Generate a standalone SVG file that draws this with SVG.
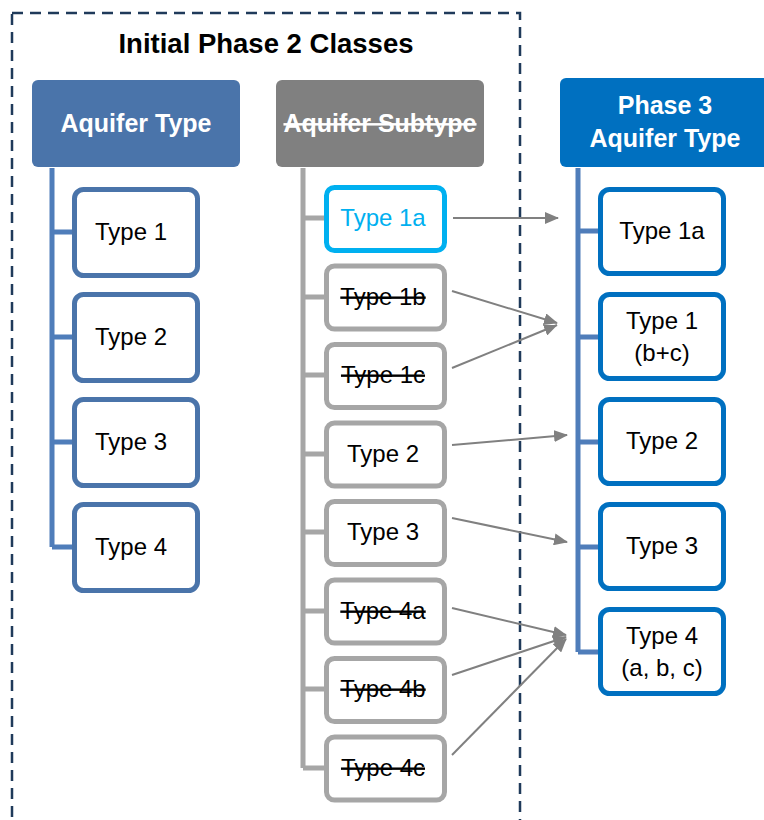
<svg xmlns="http://www.w3.org/2000/svg" width="764" height="820" viewBox="0 0 764 820">
  <style>
    .lbl { font-family: "Liberation Sans", Arial, sans-serif; font-size: 24px; fill: #000; text-anchor: middle; }
    .hdr { font-family: "Liberation Sans", Arial, sans-serif; font-size: 25px; font-weight: bold; fill: #fff; text-anchor: middle; }
    .strike { text-decoration: line-through; }
    .boxL { fill: #fff; stroke: #4a74aa; stroke-width: 5; }
    .boxM { fill: #fff; stroke: #a6a6a6; stroke-width: 5; }
    .boxR { fill: #fff; stroke: #0070c0; stroke-width: 5; }
    .spineL { stroke: #4f7dba; stroke-width: 5; fill: none; }
    .spineM { stroke: #a6a6a6; stroke-width: 5; fill: none; }
    .arrow { stroke: #808080; stroke-width: 2; fill: none; marker-end: url(#head); }
  </style>
  <defs>
    <marker id="head" viewBox="0 0 14 12" refX="13" refY="6" markerWidth="14" markerHeight="12" markerUnits="userSpaceOnUse" orient="auto">
      <path d="M0,0 L14,6 L0,12 Z" fill="#808080"/>
    </marker>
  </defs>

  <!-- Phase 2 grouping frame -->
  <rect x="12" y="13" width="508" height="830" fill="none" stroke="#1f3a5a" stroke-width="2.5" stroke-dasharray="11,7"/>
  <text x="266" y="53" font-family="Liberation Sans, Arial, sans-serif" font-size="27.5" font-weight="bold" text-anchor="middle" fill="#000">Initial Phase 2 Classes</text>

  <!-- tree spines and branches -->
  <g id="spines">
    <path class="spineL" d="M52,168 V547 M52,232 H75 M52,337 H75 M52,442 H75 M52,547 H75"/>
    <path class="spineM" d="M303,168 V768 M303,218 H327 M303,297 H327 M303,375 H327 M303,454 H327 M303,532 H327 M303,611 H327 M303,689 H327 M303,768 H327"/>
    <path class="spineL" d="M578,168 V652 M578,231 H601 M578,337 H601 M578,442 H601 M578,547 H601 M578,652 H601"/>
  </g>

  <!-- headers -->
  <g id="hdr-type">
    <rect x="32" y="80" width="208" height="87" rx="6" fill="#4a74aa"/>
    <text class="hdr" x="136" y="132">Aquifer Type</text>
  </g>
  <g id="hdr-subtype">
    <rect x="276" y="80" width="208" height="87" rx="6" fill="#808080"/>
    <text class="hdr strike" x="380" y="132">Aquifer Subtype</text>
  </g>
  <g id="hdr-phase3">
    <rect x="560" y="78" width="212" height="89" rx="6" fill="#0070c0"/>
    <text class="hdr" x="665" y="114">Phase 3</text>
    <text class="hdr" x="665" y="147">Aquifer Type</text>
  </g>

  <!-- Phase 2 aquifer types -->
  <g id="p2-type1"><rect class="boxL" x="74.5" y="189.5" width="123" height="86" rx="9"/><text class="lbl" x="131" y="240">Type 1</text></g>
  <g id="p2-type2"><rect class="boxL" x="74.5" y="294.5" width="123" height="86" rx="9"/><text class="lbl" x="131" y="345">Type 2</text></g>
  <g id="p2-type3"><rect class="boxL" x="74.5" y="399.5" width="123" height="86" rx="9"/><text class="lbl" x="131" y="450">Type 3</text></g>
  <g id="p2-type4"><rect class="boxL" x="74.5" y="504.5" width="123" height="86" rx="9"/><text class="lbl" x="131" y="555">Type 4</text></g>

  <!-- Phase 2 subtypes -->
  <g id="sub-1a"><rect class="boxM" x="326.5" y="187.5" width="118" height="63" rx="8" style="stroke:#00b0f0"/><text class="lbl" x="383" y="226" style="fill:#00b0f0">Type 1a</text></g>
  <g id="sub-1b"><rect class="boxM" x="326.5" y="266" width="118" height="63" rx="8"/><text class="lbl strike" x="383" y="305">Type 1b</text></g>
  <g id="sub-1c"><rect class="boxM" x="326.5" y="344.5" width="118" height="63" rx="8"/><text class="lbl strike" x="383" y="383">Type 1c</text></g>
  <g id="sub-2"><rect class="boxM" x="326.5" y="423" width="118" height="63" rx="8"/><text class="lbl" x="383" y="462">Type 2</text></g>
  <g id="sub-3"><rect class="boxM" x="326.5" y="501.5" width="118" height="63" rx="8"/><text class="lbl" x="383" y="540">Type 3</text></g>
  <g id="sub-4a"><rect class="boxM" x="326.5" y="580" width="118" height="63" rx="8"/><text class="lbl strike" x="383" y="619">Type 4a</text></g>
  <g id="sub-4b"><rect class="boxM" x="326.5" y="658.5" width="118" height="63" rx="8"/><text class="lbl strike" x="383" y="697">Type 4b</text></g>
  <g id="sub-4c"><rect class="boxM" x="326.5" y="737" width="118" height="63" rx="8"/><text class="lbl strike" x="383" y="776">Type 4c</text></g>

  <!-- Phase 3 aquifer types -->
  <g id="p3-1a"><rect class="boxR" x="600.5" y="189.5" width="123" height="84" rx="9"/><text class="lbl" x="662" y="239">Type 1a</text></g>
  <g id="p3-1"><rect class="boxR" x="600.5" y="294.5" width="123" height="84" rx="9"/><text class="lbl" x="662" y="329">Type 1</text><text class="lbl" x="662" y="361">(b+c)</text></g>
  <g id="p3-2"><rect class="boxR" x="600.5" y="399.5" width="123" height="84" rx="9"/><text class="lbl" x="662" y="449">Type 2</text></g>
  <g id="p3-3"><rect class="boxR" x="600.5" y="504.5" width="123" height="84" rx="9"/><text class="lbl" x="662" y="554">Type 3</text></g>
  <g id="p3-4"><rect class="boxR" x="600.5" y="609.5" width="123" height="84" rx="9"/><text class="lbl" x="662" y="644">Type 4</text><text class="lbl" x="662" y="676">(a, b, c)</text></g>

  <!-- mapping arrows -->
  <g id="connectors">
    <line class="arrow" x1="453" y1="218" x2="558" y2="218"/>
    <line class="arrow" x1="452" y1="291" x2="557" y2="323"/>
    <line class="arrow" x1="452" y1="368" x2="557" y2="325"/>
    <line class="arrow" x1="452" y1="445" x2="567" y2="435"/>
    <line class="arrow" x1="452" y1="518" x2="567" y2="542"/>
    <line class="arrow" x1="452" y1="608" x2="566" y2="635"/>
    <line class="arrow" x1="452" y1="675" x2="566" y2="637"/>
    <line class="arrow" x1="452" y1="755" x2="566" y2="639"/>
  </g>
</svg>
